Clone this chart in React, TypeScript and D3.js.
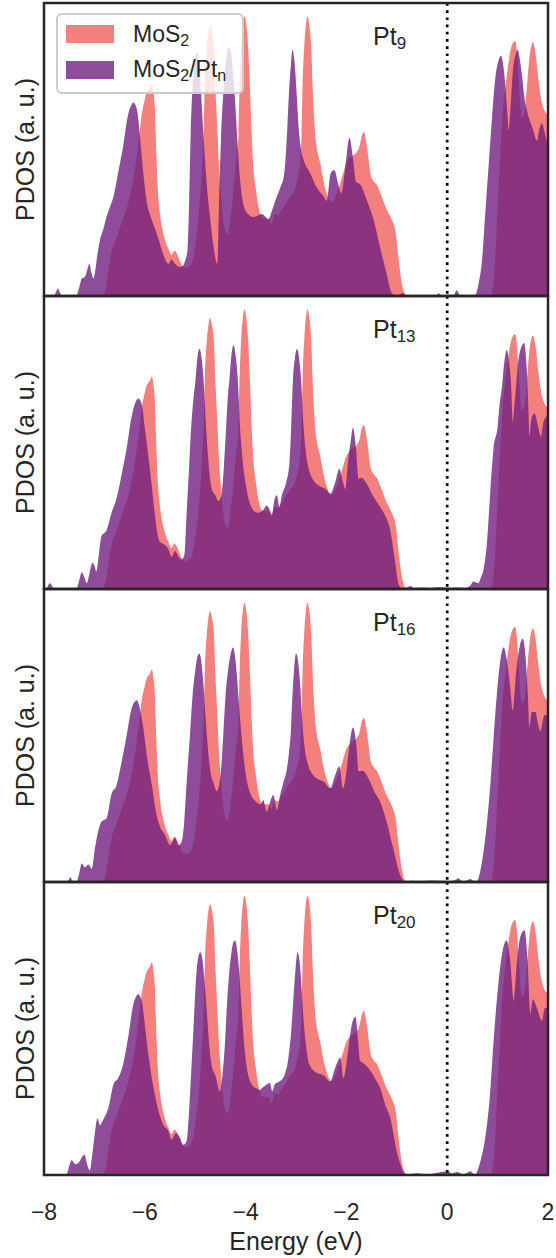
import React from 'react';
import * as d3 from 'd3';

type Pt = [number, number];

// energy (eV), PDOS in % of panel height
const mos2: Pt[] = [
  [-8.0, 0], [-6.86, 0], [-6.78, 2], [-6.72, 9], [-6.66, 15], [-6.58, 19], [-6.5, 23], [-6.42, 27],
  [-6.34, 31], [-6.26, 37], [-6.19, 44], [-6.12, 53], [-6.06, 62], [-6.0, 67], [-5.96, 69.5],
  [-5.9, 71], [-5.86, 72.5], [-5.83, 70], [-5.8, 64], [-5.77, 48], [-5.74, 36], [-5.69, 27],
  [-5.62, 20.5], [-5.53, 16], [-5.47, 14], [-5.41, 15.5], [-5.35, 14], [-5.28, 11], [-5.2, 9.5],
  [-5.12, 10], [-5.04, 13], [-4.98, 20], [-4.92, 30], [-4.87, 42], [-4.834, 55.5], [-4.81, 71.5],
  [-4.768, 85], [-4.735, 90.5], [-4.702, 92.4], [-4.665, 90], [-4.629, 85], [-4.6, 71.5],
  [-4.556, 55.5], [-4.53, 45], [-4.49, 35], [-4.45, 27], [-4.4, 22], [-4.35, 21], [-4.3, 27],
  [-4.25, 34], [-4.2, 44], [-4.14, 55.5], [-4.12, 71.5], [-4.088, 85], [-4.055, 92.5],
  [-4.021, 95.4], [-3.985, 92.5], [-3.95, 85], [-3.915, 71.5], [-3.88, 55.5], [-3.85, 45],
  [-3.8, 37], [-3.74, 30], [-3.68, 27], [-3.6, 26.5], [-3.54, 26.5], [-3.49, 24.5], [-3.42, 28],
  [-3.36, 27.5], [-3.3, 29], [-3.22, 31], [-3.15, 33], [-3.09, 34.5], [-3.03, 36], [-2.97, 40],
  [-2.92, 45], [-2.89, 55.5], [-2.87, 71.5], [-2.837, 85], [-2.805, 92.5], [-2.771, 95.4],
  [-2.735, 92.5], [-2.698, 85], [-2.67, 71.5], [-2.62, 55.5], [-2.57, 49], [-2.52, 45.5],
  [-2.45, 39], [-2.37, 34], [-2.29, 32], [-2.22, 34], [-2.15, 37], [-2.08, 41], [-2.01, 45],
  [-1.94, 47], [-1.87, 48], [-1.8, 49], [-1.74, 51], [-1.69, 55], [-1.65, 56], [-1.61, 53],
  [-1.57, 48], [-1.52, 41.5], [-1.45, 39], [-1.38, 37.5], [-1.3, 34], [-1.2, 29.5], [-1.1, 26],
  [-1.02, 21.5], [-0.97, 13.5], [-0.91, 5.5], [-0.85, 1], [-0.8, 0], [0.86, 0], [0.9, 2],
  [0.95, 12], [1.0, 30], [1.05, 47], [1.1, 62], [1.16, 72], [1.22, 80], [1.28, 85.5], [1.349, 87],
  [1.39, 82], [1.43, 70], [1.48, 61], [1.53, 62], [1.58, 71], [1.63, 81], [1.7, 86.5], [1.76, 82],
  [1.81, 74], [1.88, 66], [1.94, 63], [2.0, 62],
];

const pt9: Pt[] = [
  [-8.0, 0], [-7.8, 0], [-7.76, 1.5], [-7.72, 2.6], [-7.68, 1], [-7.64, 0], [-7.36, 0], [-7.3, 3],
  [-7.25, 6], [-7.19, 6.5], [-7.14, 9], [-7.1, 11], [-7.06, 8], [-7.02, 6], [-6.98, 9], [-6.95, 13],
  [-6.89, 19], [-6.82, 23], [-6.76, 27], [-6.69, 30.5], [-6.62, 34], [-6.53, 42], [-6.43, 51],
  [-6.33, 62], [-6.27, 65], [-6.23, 66], [-6.18, 65], [-6.14, 62], [-6.1, 55], [-6.03, 42],
  [-5.96, 32], [-5.88, 27], [-5.8, 23], [-5.72, 19], [-5.63, 14], [-5.53, 11], [-5.47, 12.5],
  [-5.4, 11], [-5.33, 10], [-5.27, 10], [-5.2, 12], [-5.15, 16], [-5.12, 32], [-5.09, 55],
  [-5.05, 72], [-5.01, 80], [-4.97, 83], [-4.93, 80], [-4.89, 71], [-4.84, 56], [-4.77, 38],
  [-4.7, 26], [-4.63, 16], [-4.56, 11], [-4.53, 30], [-4.49, 53], [-4.44, 70], [-4.39, 80],
  [-4.34, 85], [-4.3, 84], [-4.26, 78], [-4.21, 67], [-4.16, 52], [-4.1, 38], [-4.04, 31],
  [-3.95, 28], [-3.85, 27], [-3.75, 27.5], [-3.68, 28], [-3.6, 27], [-3.55, 26], [-3.48, 29],
  [-3.41, 32.5], [-3.31, 37], [-3.24, 41], [-3.21, 46], [-3.17, 58], [-3.14, 69], [-3.1, 79],
  [-3.07, 84], [-3.03, 80], [-2.99, 70], [-2.95, 58], [-2.9, 50], [-2.84, 46], [-2.72, 42],
  [-2.59, 37], [-2.45, 34], [-2.39, 32.5], [-2.31, 42], [-2.24, 43], [-2.16, 38], [-2.1, 35],
  [-2.02, 44], [-1.94, 54], [-1.87, 47], [-1.81, 39], [-1.72, 38], [-1.59, 32.5], [-1.46, 26],
  [-1.33, 16.5], [-1.2, 7.4], [-1.1, 1], [-1.0, 0], [-0.92, 0.8], [-0.87, 1], [-0.82, 0],
  [-0.22, 0], [-0.17, 1], [-0.12, 0], [0.12, 0], [0.19, 2], [0.26, 0], [0.55, 0], [0.62, 4],
  [0.69, 12], [0.75, 27], [0.82, 44], [0.89, 61], [0.95, 73.6], [1.02, 80.5], [1.07, 82],
  [1.11, 79], [1.15, 72.5], [1.19, 63], [1.22, 56.5], [1.26, 65], [1.3, 76], [1.35, 82], [1.4, 84],
  [1.44, 81], [1.48, 76], [1.53, 68], [1.6, 62], [1.7, 57], [1.78, 53], [1.83, 57], [1.88, 59],
  [1.93, 56], [1.98, 53], [2.0, 53],
];

const pt13: Pt[] = [
  [-8.0, 0], [-7.95, 0], [-7.91, 1.5], [-7.88, 2], [-7.84, 1], [-7.8, 0], [-7.36, 0], [-7.3, 3],
  [-7.25, 5.7], [-7.2, 4], [-7.15, 2], [-7.09, 6], [-7.04, 9], [-7.0, 8], [-6.96, 6], [-6.91, 12],
  [-6.86, 18], [-6.81, 19], [-6.76, 20], [-6.66, 26], [-6.56, 31], [-6.46, 39], [-6.36, 48],
  [-6.26, 59], [-6.19, 63.5], [-6.13, 65], [-6.06, 63], [-6.0, 55], [-5.9, 41], [-5.83, 30],
  [-5.76, 20], [-5.7, 16], [-5.6, 15], [-5.53, 13.5], [-5.47, 11], [-5.4, 13], [-5.33, 11],
  [-5.27, 10], [-5.21, 12], [-5.17, 26], [-5.12, 42], [-5.079, 55.5], [-5.04, 64], [-4.993, 71.5],
  [-4.955, 79], [-4.914, 82], [-4.875, 79], [-4.835, 71.5], [-4.79, 57], [-4.74, 44], [-4.67, 34],
  [-4.6, 32], [-4.54, 30], [-4.48, 32], [-4.43, 42], [-4.385, 55.5], [-4.35, 66], [-4.32, 71.5],
  [-4.28, 80], [-4.239, 83.2], [-4.2, 80], [-4.155, 71.5], [-4.11, 55], [-4.06, 44], [-4.0, 36],
  [-3.93, 30], [-3.85, 27], [-3.75, 26], [-3.65, 27], [-3.58, 28.5], [-3.52, 27], [-3.48, 25.5],
  [-3.42, 31], [-3.38, 32], [-3.33, 28], [-3.28, 32], [-3.2, 36], [-3.13, 43], [-3.095, 55.5],
  [-3.06, 71.5], [-3.02, 79], [-2.98, 82], [-2.94, 79], [-2.9, 71.5], [-2.85, 55.5], [-2.8, 46],
  [-2.73, 40], [-2.65, 37], [-2.52, 35], [-2.4, 34], [-2.32, 32.5], [-2.22, 36.5], [-2.14, 41],
  [-2.07, 36.5], [-2.02, 34], [-1.97, 43], [-1.91, 51], [-1.87, 55], [-1.81, 48], [-1.76, 37.6],
  [-1.7, 38], [-1.6, 36], [-1.48, 32], [-1.37, 29], [-1.26, 26], [-1.13, 20], [-1.03, 9],
  [-0.97, 2], [-0.9, 0.3], [-0.8, 0.5], [-0.73, 1], [-0.66, 0.3], [-0.5, 0.5], [-0.35, 0.3],
  [-0.2, 0.6], [0, 0.4], [0.2, 0.5], [0.35, 0.3], [0.45, 1], [0.52, 2.6], [0.58, 2.2], [0.62, 2],
  [0.67, 4], [0.72, 6.6], [0.79, 16], [0.85, 32], [0.92, 48], [1.0, 55.3], [1.04, 63],
  [1.086, 69], [1.13, 77], [1.184, 81.6], [1.23, 77], [1.27, 69], [1.3, 57], [1.34, 64],
  [1.38, 72], [1.43, 80], [1.528, 84], [1.575, 76], [1.61, 62], [1.63, 52], [1.67, 58],
  [1.73, 60], [1.81, 55], [1.86, 52], [1.91, 57], [1.98, 59], [2.0, 59],
];

const pt16: Pt[] = [
  [-8, 0], [-7.55, 0], [-7.5, 1], [-7.48, 1.7], [-7.44, 0.5], [-7.36, 0], [-7.3, 3], [-7.25, 6.3],
  [-7.19, 5], [-7.12, 6], [-7.05, 4.5], [-6.99, 11.4], [-6.93, 17], [-6.86, 20.6], [-6.76, 21.7],
  [-6.66, 30], [-6.56, 33], [-6.46, 41], [-6.36, 50], [-6.26, 59.4], [-6.2, 61.5], [-6.16, 62],
  [-6.1, 59.4], [-6.03, 52.6], [-5.95, 42], [-5.85, 32], [-5.78, 24], [-5.7, 19], [-5.6, 16],
  [-5.5, 12.6], [-5.4, 15], [-5.33, 12.5], [-5.27, 13.7], [-5.22, 20], [-5.17, 34], [-5.1, 51],
  [-5.05, 64], [-5.0, 72], [-4.96, 76.5], [-4.92, 78], [-4.88, 75.5], [-4.84, 68], [-4.79, 55],
  [-4.74, 44], [-4.68, 36], [-4.64, 34], [-4.57, 31], [-4.5, 36], [-4.44, 51], [-4.4, 63],
  [-4.35, 72], [-4.3, 77.5], [-4.25, 80], [-4.21, 77], [-4.17, 70], [-4.12, 58], [-4.06, 46],
  [-3.99, 36], [-3.9, 30], [-3.8, 27.5], [-3.7, 26.5], [-3.65, 28], [-3.58, 24], [-3.52, 27],
  [-3.45, 29.7], [-3.38, 24.6], [-3.31, 30], [-3.25, 34], [-3.19, 37.7], [-3.14, 44], [-3.1, 52],
  [-3.07, 64], [-3.04, 72], [-3.0, 78], [-2.96, 75.5], [-2.92, 68], [-2.88, 56], [-2.83, 46],
  [-2.76, 40], [-2.66, 36.5], [-2.55, 35], [-2.45, 34.3], [-2.32, 32], [-2.22, 36.6], [-2.14, 39.5],
  [-2.07, 32], [-2.02, 35], [-1.96, 43.5], [-1.87, 52.7], [-1.8, 46], [-1.76, 37.8], [-1.68, 38],
  [-1.55, 35], [-1.45, 31], [-1.33, 27.4], [-1.2, 20.5], [-1.07, 11.4], [-0.93, 2.2], [-0.83, 0],
  [-0.7, 0.4], [-0.5, 0.3], [-0.3, 0.5], [0, 0.3], [0.15, 0.6], [0.22, 1.3], [0.3, 0.3],
  [0.4, 0.6], [0.46, 1], [0.52, 0.4], [0.59, 0.3], [0.64, 2.5], [0.69, 6.8], [0.79, 20.5],
  [0.85, 32], [0.92, 49], [0.985, 64], [1.05, 75], [1.12, 80], [1.18, 76], [1.25, 66.5],
  [1.3, 58.4], [1.37, 72], [1.44, 80.5], [1.495, 83], [1.56, 75.7], [1.6, 64], [1.63, 52.7],
  [1.68, 58], [1.75, 58], [1.8, 54], [1.85, 51.5], [1.93, 57], [2.0, 57],
];

const pt20: Pt[] = [
  [-8, 0], [-7.56, 0], [-7.5, 3], [-7.45, 5], [-7.4, 4], [-7.37, 3.7], [-7.3, 4.5], [-7.25, 6],
  [-7.2, 7], [-7.15, 4], [-7.12, 2.3], [-7.09, 1.5], [-7.05, 6], [-7.02, 10], [-6.97, 17],
  [-6.94, 19.4], [-6.89, 17], [-6.82, 19], [-6.72, 23], [-6.62, 31], [-6.53, 33], [-6.43, 37.7],
  [-6.33, 47], [-6.23, 58], [-6.17, 61], [-6.13, 61.7], [-6.06, 59.4], [-6.0, 51.4], [-5.92, 40],
  [-5.83, 30], [-5.73, 22], [-5.63, 17], [-5.53, 15], [-5.47, 12], [-5.38, 14.3], [-5.3, 12.6],
  [-5.24, 10.3], [-5.17, 11.4], [-5.12, 22], [-5.08, 35], [-5.04, 48], [-5.0, 62], [-4.97, 70],
  [-4.93, 75], [-4.9, 76], [-4.86, 74], [-4.82, 67], [-4.77, 56], [-4.72, 44], [-4.67, 37],
  [-4.6, 34], [-4.51, 28.6], [-4.46, 34], [-4.41, 45], [-4.37, 58], [-4.33, 68], [-4.28, 76],
  [-4.24, 79.5], [-4.21, 80], [-4.17, 77], [-4.13, 70], [-4.08, 57], [-4.03, 45], [-3.97, 36],
  [-3.88, 31], [-3.78, 29.5], [-3.72, 29], [-3.65, 30], [-3.58, 30.9], [-3.52, 31.5], [-3.47, 28.6],
  [-3.42, 31], [-3.32, 32], [-3.23, 34], [-3.15, 40], [-3.1, 48], [-3.06, 58], [-3.02, 68],
  [-2.99, 74], [-2.97, 76], [-2.93, 73], [-2.89, 64], [-2.85, 53], [-2.8, 44], [-2.74, 38],
  [-2.6, 35], [-2.45, 34], [-2.32, 32], [-2.22, 36.7], [-2.12, 40], [-2.06, 33], [-2.0, 38],
  [-1.94, 46], [-1.89, 51.5], [-1.82, 54], [-1.77, 46], [-1.73, 39], [-1.65, 38], [-1.5, 35],
  [-1.4, 32], [-1.33, 29.8], [-1.23, 24], [-1.13, 19.5], [-1.0, 8], [-0.87, 1.3], [-0.8, 0.3],
  [-0.6, 0.6], [-0.4, 0.3], [-0.2, 0.8], [0, 1.3], [0.1, 0.6], [0.2, 1], [0.3, 0.3], [0.4, 0.8],
  [0.46, 1.3], [0.52, 0.5], [0.56, 0.2], [0.61, 2], [0.66, 4.7], [0.755, 12.7], [0.85, 27.5],
  [0.93, 48], [1.02, 66], [1.105, 77], [1.18, 80], [1.25, 73], [1.32, 59.5], [1.38, 72],
  [1.46, 81.8], [1.535, 83.5], [1.595, 73], [1.65, 55], [1.7, 60], [1.78, 57], [1.88, 52.7],
  [1.94, 57], [2.0, 57],
];

const panelSeries = [pt9, pt13, pt16, pt20];
const panelSubs = ['9', '13', '16', '20'];
const xTicks = [-8, -6, -4, -2, 0, 2];

const W = 556;
const H = 1258;
const left = 44;
const right = 548;
const top = 3;
const panelH = 293;

const colMoS2 = '#F1605D';
const colPt = '#721F81';
const font = '"Liberation Sans", Arial, Helvetica, sans-serif';
const ink = '#262626';

const x = d3.scaleLinear().domain([-8, 2]).range([left, right]);

export default function App() {
  return (
    <svg
      width={W}
      height={H}
      style={{ position: 'absolute', left: 0, top: 0, display: 'block', background: '#fff' }}
      fontFamily={font}
    >
      <defs>
        {panelSeries.map((_, i) => (
          <clipPath id={`clip${i}`} key={i}>
            <rect x={left} y={top + i * panelH} width={right - left} height={panelH} />
          </clipPath>
        ))}
      </defs>
      {panelSeries.map((series, i) => {
        const y0 = top + i * panelH;
        const y = d3.scaleLinear().domain([0, 100]).range([y0 + panelH, y0]);
        const area = d3
          .area<Pt>()
          .x((d) => x(d[0]))
          .y0(y(0))
          .y1((d) => y(d[1]))
          .curve(d3.curveMonotoneX);
        return (
          <g key={i}>
            <g clipPath={`url(#clip${i})`}>
              <path d={area(mos2) ?? ''} fill={colMoS2} fillOpacity={0.8} />
              <path d={area(series) ?? ''} fill={colPt} fillOpacity={0.8} />
              <line
                x1={x(0)}
                x2={x(0)}
                y1={y0}
                y2={y0 + panelH}
                stroke="#000"
                strokeWidth={2.7}
                strokeDasharray="2.7,4.5"
              />
            </g>
            <text x={373} y={y0 + 42} fontSize={25} fill={ink}>
              Pt
              <tspan fontSize={17} dy={4}>
                {panelSubs[i]}
              </tspan>
            </text>
            <text
              transform={`translate(34,${y0 + panelH / 2}) rotate(-90)`}
              textAnchor="middle"
              fontSize={25}
              fill={ink}
            >
              PDOS (a. u.)
            </text>
            <rect
              x={left}
              y={y0}
              width={right - left}
              height={panelH}
              fill="none"
              stroke={ink}
              strokeWidth={2.5}
            />
          </g>
        );
      })}

      {/* legend */}
      <g>
        <rect x={57} y={14} width={186} height={79} rx={5} fill="#fff" fillOpacity={0.8} stroke="#cccccc" strokeWidth={2} />
        <rect x={66} y={25} width={48} height={18} fill={colMoS2} fillOpacity={0.8} />
        <rect x={66} y={61} width={48} height={18} fill={colPt} fillOpacity={0.8} />
        <text x={133} y={42} fontSize={23} fill={ink}>
          MoS<tspan fontSize={16} dy={4}>2</tspan>
        </text>
        <text x={133} y={77} fontSize={23} fill={ink}>
          MoS<tspan fontSize={16} dy={4}>2</tspan>
          <tspan dy={-4}>/Pt</tspan>
          <tspan fontSize={16} dy={4}>n</tspan>
        </text>
      </g>

      {/* x axis */}
      {xTicks.map((t) => (
        <text key={t} x={x(t)} y={1220} textAnchor="middle" fontSize={23} fill={ink}>
          {t < 0 ? `\u2212${Math.abs(t)}` : `${t}`}
        </text>
      ))}
      <text x={(left + right) / 2} y={1250} textAnchor="middle" fontSize={25} fill={ink}>
        Energy (eV)
      </text>
    </svg>
  );
}
